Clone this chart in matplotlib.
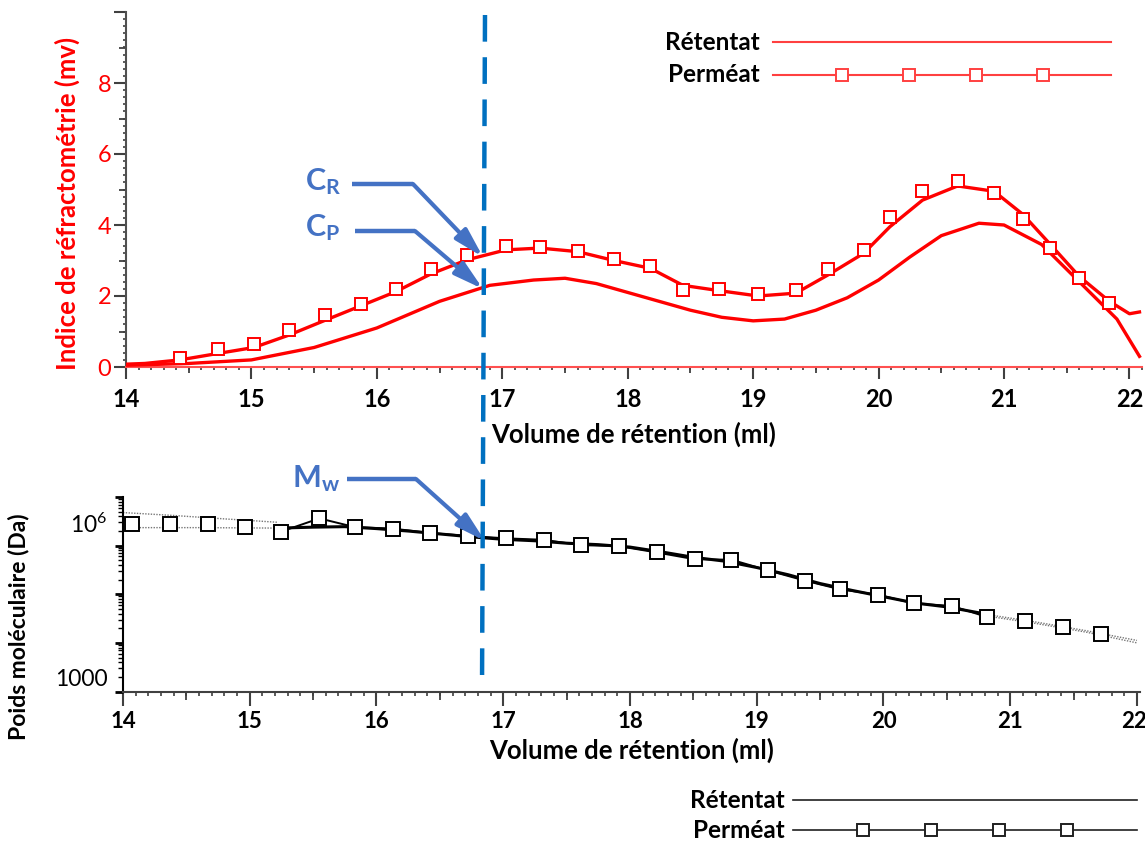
import numpy as np
import matplotlib
matplotlib.use("Agg")
import matplotlib.pyplot as plt
from matplotlib.lines import Line2D
from matplotlib.ticker import MultipleLocator, FixedLocator, LogLocator, NullFormatter
import matplotlib.transforms as mtransforms

plt.rcParams['font.family'] = ['Lato', 'DejaVu Sans']
plt.rcParams['mathtext.fontset'] = 'custom'
plt.rcParams['mathtext.rm'] = 'Lato'
plt.rcParams['mathtext.it'] = 'Lato:italic'
plt.rcParams['mathtext.bf'] = 'Lato:bold'

# ---------------- data: top panel (refractometry, mV) ----------------
v_upper = [14.0, 14.15, 14.43, 14.73, 15.02, 15.3, 15.59, 15.87, 16.15, 16.43, 16.72,
           17.03, 17.3, 17.6, 17.89, 18.18, 18.44, 18.73, 19.04, 19.34, 19.6,
           19.88, 20.09, 20.35, 20.63, 20.92, 21.15, 21.37, 21.6, 21.84, 22.0, 22.08]
ri_upper = [0.08, 0.1, 0.2, 0.38, 0.55, 0.9, 1.32, 1.72, 2.12, 2.62, 3.02,
            3.3, 3.35, 3.25, 3.0, 2.78, 2.3, 2.15, 2.0, 2.08, 2.6,
            3.2, 3.95, 4.7, 5.1, 4.95, 4.3, 3.45, 2.55, 1.85, 1.5, 1.55]
v_upper_sq = [14.43, 14.73, 15.02, 15.3, 15.59, 15.87, 16.15, 16.43, 16.72,
              17.03, 17.3, 17.6, 17.89, 18.18, 18.44, 18.73, 19.04, 19.34, 19.6,
              19.88, 20.09, 20.35, 20.63, 20.92, 21.15, 21.37, 21.6, 21.84]
ri_upper_sq = [0.25, 0.5, 0.64, 1.04, 1.46, 1.77, 2.2, 2.76, 3.15,
               3.41, 3.38, 3.28, 3.03, 2.84, 2.17, 2.21, 2.06, 2.17, 2.75,
               3.3, 4.22, 4.96, 5.25, 4.91, 4.17, 3.35, 2.52, 1.8]

v_lower = [14.0, 14.5, 15.0, 15.5, 16.0, 16.5, 16.9, 17.25, 17.5, 17.75, 18.0,
           18.25, 18.5, 18.75, 19.0, 19.25, 19.5, 19.75, 20.0, 20.25, 20.5,
           20.8, 21.0, 21.3, 21.6, 21.9, 22.08]
ri_lower = [0.05, 0.1, 0.2, 0.55, 1.1, 1.85, 2.3, 2.45, 2.5, 2.35, 2.1,
            1.85, 1.6, 1.4, 1.3, 1.35, 1.6, 1.95, 2.45, 3.1, 3.7,
            4.05, 4.0, 3.45, 2.4, 1.35, 0.3]

# ---------------- data: bottom panel (molecular weight, log10 Da) ----------------
v_ret_mid = [15.22, 15.5, 15.75, 16.0, 16.25, 16.5, 16.75, 17.0, 17.25, 17.5, 17.75,
             18.0, 18.25, 18.5, 18.75, 19.0, 19.25, 19.5, 19.75, 20.0, 20.25,
             20.5, 20.75, 20.85]
logm_ret_mid = [6.36, 6.38, 6.39, 6.35, 6.30, 6.24, 6.18, 6.13, 6.10, 6.05, 6.02,
                5.97, 5.87, 5.76, 5.68, 5.55, 5.40, 5.22, 5.08, 4.95, 4.82,
                4.74, 4.62, 4.57]
v_ret_left = [14.0, 14.4, 14.8, 15.22]
logm_ret_left = [6.68, 6.62, 6.55, 6.48]
v_ret_right = [20.85, 21.2, 21.6, 22.0]
logm_ret_right = [4.57, 4.43, 4.25, 4.05]

v_perm_sq = [14.07, 14.37, 14.67, 14.96, 15.25, 15.55, 15.83, 16.13, 16.42, 16.72,
             17.02, 17.32, 17.61, 17.91, 18.21, 18.51, 18.8, 19.09, 19.38, 19.66,
             19.96, 20.24, 20.54, 20.82, 21.12, 21.42, 21.72]
logm_perm_sq = [6.44, 6.44, 6.44, 6.38, 6.29, 6.56, 6.38, 6.35, 6.26, 6.20,
                6.15, 6.12, 6.01, 5.99, 5.86, 5.72, 5.71, 5.49, 5.28, 5.10,
                4.99, 4.81, 4.76, 4.53, 4.44, 4.32, 4.18]
v_perm_left = [14.0, 14.6, 15.25]
logm_perm_left = [6.37, 6.37, 6.36]
v_perm_right = [20.82, 21.2, 21.6, 22.0]
logm_perm_right = [4.55, 4.40, 4.22, 4.00]

x_ticks = [14, 15, 16, 17, 18, 19, 20, 21, 22]
y_ticks_top = [0, 2, 4, 6, 8]
legend_labels = ['Rétentat', 'Perméat']

RED = '#FF0000'
BLUE = '#4472C4'
DASH_BLUE = '#0070C0'

W, H = 1145, 843
fig = plt.figure(figsize=(W / 100, H / 100), dpi=100)

def fx(px):
    return px / W

def fy(py):
    return 1 - py / H

# ---------------- top axes ----------------
ax1 = fig.add_axes([fx(126), fy(367), fx(1142) - fx(126), fy(12) - fy(367)])
ax1.set_xlim(14, 22.1)
ax1.set_ylim(0, 10)
ax1.plot(v_lower, ri_lower, color=RED, lw=2.4, zorder=3)
ax1.plot(v_upper, ri_upper, color=RED, lw=2.4, zorder=3)
ax1.plot(v_upper_sq, ri_upper_sq, ls='none', marker='s', ms=9, mfc='white',
         mec=RED, mew=1.4, zorder=4)
for s in ['top', 'right']:
    ax1.spines[s].set_visible(False)
ax1.spines['left'].set_color('#505050')
ax1.spines['left'].set_linewidth(1.5)
ax1.spines['bottom'].set_color('#FF5050')
ax1.spines['bottom'].set_linewidth(1.5)
ax1.xaxis.set_major_locator(FixedLocator(x_ticks))
ax1.xaxis.set_minor_locator(MultipleLocator(0.1))
ax1.yaxis.set_major_locator(FixedLocator(y_ticks_top + [10]))
ax1.set_yticklabels([str(t) for t in y_ticks_top] + [''])
ax1.yaxis.set_minor_locator(MultipleLocator(0.2))
ax1.tick_params(axis='x', which='major', length=8.6, width=1.5, color='#404040',
                labelsize=17, pad=6.4)
ax1.tick_params(axis='x', which='minor', length=2.2, width=1.2, color='#404040')
ax1.tick_params(axis='y', which='major', length=8.6, width=1.5, color='#404040',
                labelsize=17, labelcolor=RED, pad=2)
ax1.tick_params(axis='y', which='minor', length=2.0, width=1.2, color='#404040')
for lab in ax1.get_xticklabels():
    lab.set_fontweight('bold')
sec1x = ax1.secondary_xaxis('bottom')
sec1x.set_xticks(np.arange(14.5, 22.1, 1.0))
sec1x.tick_params(length=4.5, width=1.3, color='#404040', labelbottom=False)
sec1x.spines['bottom'].set_visible(False)
sec1y = ax1.secondary_yaxis('left')
sec1y.set_yticks(np.arange(1, 10, 2))
sec1y.tick_params(length=5, width=1.3, color='#404040', labelleft=False)
sec1y.spines['left'].set_visible(False)
ax1.set_xlabel('Volume de rétention (ml)', fontsize=18.5, fontweight='bold', labelpad=8)
fig.text(fx(67), fy(203), 'Indice de réfractométrie (mv)', rotation=90,
         fontsize=18.5, fontweight='bold', color=RED, ha='center', va='center')

# ---------------- bottom axes ----------------
ax2 = fig.add_axes([fx(123), fy(691.5), fx(1139.5) - fx(123), fy(497) - fy(691.5)])
ax2.set_yscale('log')
ax2.set_xlim(14, 22.02)
ax2.set_ylim(1e3, 1e7)
m = lambda arr: [10 ** a for a in arr]
ax2.plot(v_ret_left, m(logm_ret_left), color='#777777', lw=1.0, ls=(0, (1, 1)))
ax2.plot(v_ret_right, m(logm_ret_right), color='#777777', lw=1.0, ls=(0, (1, 1)))
ax2.plot(v_perm_left, m(logm_perm_left), color='#777777', lw=1.0, ls=(0, (1, 1)))
ax2.plot(v_perm_right, m(logm_perm_right), color='#777777', lw=1.0, ls=(0, (1, 1)))
ax2.plot(v_ret_mid, m(logm_ret_mid), color='black', lw=2.2, zorder=3)
mid = [i for i, v in enumerate(v_perm_sq) if 15.2 <= v <= 20.85]
ax2.plot([v_perm_sq[i] for i in mid], m([logm_perm_sq[i] for i in mid]),
         color='black', lw=1.4, zorder=3)
ax2.plot(v_perm_sq, m(logm_perm_sq), ls='none', marker='s', ms=10, mfc='white',
         mec='black', mew=1.4, zorder=4)
for s in ['top', 'right']:
    ax2.spines[s].set_visible(False)
ax2.spines['left'].set_color('black')
ax2.spines['left'].set_linewidth(1.5)
ax2.spines['bottom'].set_color('#404040')
ax2.spines['bottom'].set_linewidth(1.5)
ax2.xaxis.set_major_locator(FixedLocator(x_ticks))
ax2.xaxis.set_minor_locator(MultipleLocator(0.1))
ax2.tick_params(axis='x', which='major', length=10, width=1.5, color='#404040',
                labelsize=16, pad=4)
ax2.tick_params(axis='x', which='minor', length=3, width=1.2, color='#404040')
xlabs = ax2.get_xticklabels()
for lab in xlabs:
    lab.set_fontweight('bold')
xlabs[-1].set_horizontalalignment('right')
xlabs[-1].set_transform(xlabs[-1].get_transform() +
                        mtransforms.ScaledTranslation(0.1, 0, fig.dpi_scale_trans))
sec2x = ax2.secondary_xaxis('bottom')
sec2x.set_xticks(np.arange(14.5, 22.1, 1.0))
sec2x.tick_params(length=6, width=1.3, color='#404040', labelbottom=False)
sec2x.spines['bottom'].set_visible(False)
ax2.yaxis.set_major_locator(FixedLocator([1e3, 1e4, 1e5, 1e6, 1e7]))
ax2.yaxis.set_minor_locator(LogLocator(base=10, subs=np.arange(2, 10)))
ax2.yaxis.set_major_formatter(NullFormatter())
ax2.yaxis.set_minor_formatter(NullFormatter())
ax2.tick_params(axis='y', which='major', length=6, width=2.0, color='black')
ax2.tick_params(axis='y', which='minor', length=3.5, width=1.0, color='black')
blend = mtransforms.blended_transform_factory(ax2.transAxes, ax2.transData)
ax2.annotate('1000', xy=(0, 1e3), xycoords=blend, xytext=(-11, 8.5),
             textcoords='offset points', ha='right', va='center', fontsize=16.5)
ax2.annotate(r'$\mathregular{10^6}$', xy=(0, 1e6), xycoords=blend, xytext=(-11, 15),
             textcoords='offset points', ha='right', va='center', fontsize=16.5)
ax2.set_xlabel('Volume de rétention (ml)', fontsize=18.5, fontweight='bold', labelpad=4)
fig.text(fx(19), fy(627), 'Poids moléculaire (Da)', rotation=90, fontsize=16.5,
         fontweight='bold', ha='center', va='center')

# ---------------- vertical dashed line (spans both panels) ----------------
fig.add_artist(Line2D([fx(485), fx(482)], [fy(15), fy(690)], color=DASH_BLUE, lw=3.2,
                      ls=(0, (6, 3.5))))

# ---------------- blue annotations ----------------
def bent_arrow(x0, y0, x1, y1, x2, y2):
    fig.add_artist(Line2D([fx(x0), fx(x1)], [fy(y0), fy(y1)], color=BLUE, lw=3.2,
                          solid_capstyle='butt'))
    fig.patches.append(matplotlib.patches.FancyArrowPatch(
        (fx(x1), fy(y1)), (fx(x2), fy(y2)), transform=fig.transFigure,
        arrowstyle='-|>,head_length=0.8,head_width=0.22', mutation_scale=22,
        color=BLUE, lw=3.0, shrinkA=0, shrinkB=0, figure=fig))

fig.text(fx(305), fy(182), r'$\mathbf{C_R}$', color=BLUE, fontsize=22,
         ha='left', va='center')
bent_arrow(352, 184, 413, 184, 483, 257)
fig.text(fx(305), fy(228), r'$\mathbf{C_P}$', color=BLUE, fontsize=22,
         ha='left', va='center')
bent_arrow(355, 231, 415, 231, 483, 289)
fig.text(fx(292), fy(479), r'$\mathbf{M_w}$', color=BLUE, fontsize=22,
         ha='left', va='center')
bent_arrow(347, 479, 416, 479, 485, 541)

# ---------------- manual legends ----------------
def legend_block(x_text, x0, x1, y_ret, y_perm, color, msq, lw):
    fig.text(fx(x_text), fy(y_ret), legend_labels[0], fontsize=17.5, fontweight='bold',
             ha='right', va='center')
    fig.text(fx(x_text), fy(y_perm), legend_labels[1], fontsize=17.5, fontweight='bold',
             ha='right', va='center')
    fig.add_artist(Line2D([fx(x0), fx(x1)], [fy(y_ret), fy(y_ret)], color=color, lw=lw))
    fig.add_artist(Line2D([fx(x0), fx(x1)], [fy(y_perm), fy(y_perm)], color=color, lw=lw))
    fig.add_artist(Line2D([fx(p) for p in msq], [fy(y_perm)] * len(msq), ls='none',
                          marker='s', ms=8.5, mfc='white', mec=color, mew=1.4))

legend_block(760, 773, 1111, 42, 75, '#FF4040', [842, 909, 976, 1043], 1.5)
legend_block(785, 793, 1137, 800, 830, '#202020', [863, 931, 999, 1067], 1.2)

fig.savefig('out.png', dpi=100)
